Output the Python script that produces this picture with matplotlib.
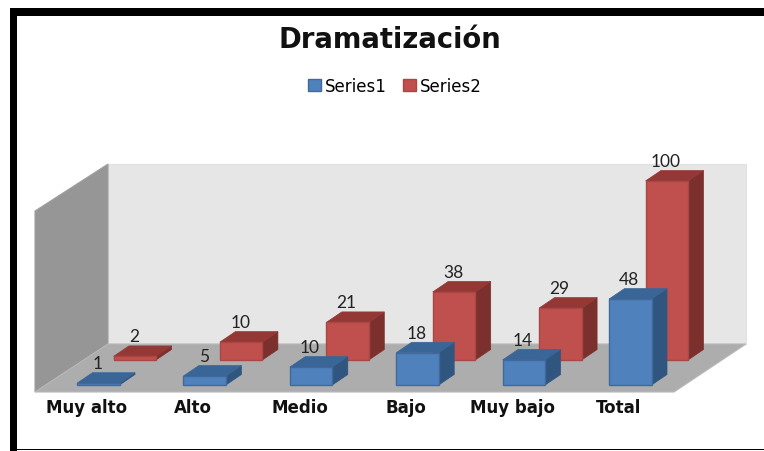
import matplotlib
matplotlib.use('Agg')
import matplotlib.pyplot as plt
from matplotlib.patches import Polygon, Patch, Rectangle

categories = ['Muy alto', 'Alto', 'Medio', 'Bajo', 'Muy bajo', 'Total']
series1 = [1, 5, 10, 18, 14, 48]
series2 = [2, 10, 21, 38, 29, 100]
series_names = ['Series1', 'Series2']
title = 'Dramatización'

# pixel layout of the fake 3d box
step = 106.4
bar_w = 42.5
depth_x, depth_y = 15.5, -10.5
px_per_unit = 1.79
base1_x, base1_y = 77, 386
base2_x, base2_y = 113.5, 361

blue = ('#4F81BD', '#3A6597', '#30557F', '#41699C')
red = ('#C0504D', '#943836', '#7B302E', '#A94745')

fig = plt.figure(figsize=(7.64, 4.52), dpi=100)
ax = fig.add_axes([0, 0, 1, 1])
ax.set_xlim(0, 764)
ax.set_ylim(452, 0)
ax.axis('off')

# frame
ax.add_patch(Rectangle((10, 9), 754, 8, color='black', lw=0))
ax.add_patch(Rectangle((10, 9), 7, 443, color='black', lw=0))
ax.add_patch(Rectangle((10, 449.5), 754, 1.5, color='black', lw=0))

# walls and floor
ax.add_patch(Polygon([(108, 165), (746, 165), (746, 345), (108, 345)], fc='#E6E6E6', ec='#E2E2E2', lw=0.8))
ax.add_patch(Polygon([(35, 212), (108, 165), (108, 345), (35, 393)], fc='#969696', ec='#A0A0A0', lw=0.8))
ax.add_patch(Polygon([(35, 393), (108, 345), (746, 345), (674, 393)], fc='#ADADAD', ec='#B8B8B8', lw=0.8))


def draw_bar(x, y0, value, colors):
    top = y0 - value * px_per_unit
    front, roof, side, edge = colors
    ax.add_patch(Polygon([(x + bar_w, y0), (x + bar_w + depth_x, y0 + depth_y),
                          (x + bar_w + depth_x, top + depth_y), (x + bar_w, top)], fc=side, ec=side, lw=0.5))
    ax.add_patch(Polygon([(x, top), (x + depth_x, top + depth_y),
                          (x + bar_w + depth_x, top + depth_y), (x + bar_w, top)], fc=roof, ec=roof, lw=0.5))
    ax.add_patch(Polygon([(x, y0), (x + bar_w, y0), (x + bar_w, top), (x, top)], fc=front, ec=edge, lw=1))
    ax.text(x + bar_w / 2 - 1, top - 20, str(value), ha='center', va='center',
            fontsize=12.5, family='Lato', color='#222222', zorder=10)


for i in range(len(categories)):
    draw_bar(base2_x + step * i, base2_y, series2[i], red)
    draw_bar(base1_x + step * i, base1_y, series1[i], blue)
    ax.text(base1_x + step * i + 10, 408, categories[i], ha='center', va='center',
            fontsize=12, fontweight='bold', family='DejaVu Sans', color='#111111')

ax.text(390, 40, title, ha='center', va='center', fontsize=19.8, fontweight='bold', family='DejaVu Sans', color='#111111')

handles = [Patch(fc=blue[0], ec=blue[3]), Patch(fc=red[0], ec=red[3])]
ax.legend(handles, series_names, ncol=2, loc='center', bbox_to_anchor=(395, 87), bbox_transform=ax.transData,
          frameon=False, handlelength=0.75, handleheight=0.75, handletextpad=0.25, columnspacing=1.0,
          prop={'family': 'DejaVu Sans', 'size': 12})

fig.savefig('out.png', dpi=100)
